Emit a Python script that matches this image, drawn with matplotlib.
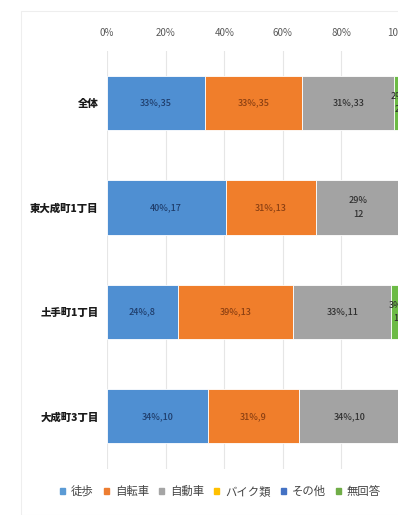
import matplotlib
matplotlib.use("Agg")
import matplotlib.pyplot as plt
import numpy as np
from matplotlib.patches import Rectangle

plt.rcParams['font.family'] = ['Noto Sans CJK JP', 'DejaVu Sans']

categories = ["全体", "東大成町1丁目", "土手町1丁目", "大成町3丁目"]
series = ["徒歩", "自転車", "自動車", "バイク類", "その他", "無回答"]
counts = {
    "徒歩":   [35, 17, 8, 10],
    "自転車": [35, 13, 13, 9],
    "自動車": [33, 12, 11, 10],
    "バイク類": [0, 0, 0, 0],
    "その他": [0, 0, 0, 0],
    "無回答": [2, 0, 1, 0],
}
# labels broken onto two lines in the reference
two_line = {("自動車", 1), ("無回答", 0), ("無回答", 2)}
xticks = [0, 20, 40, 60, 80, 100]
xticklabels = ["0%", "20%", "40%", "60%", "80%", "100%"]

colors = {"徒歩": "#4f8fd2", "自転車": "#f07e2b", "自動車": "#a3a3a3",
          "バイク類": "#ffc000", "その他": "#4472c4", "無回答": "#6cbb45"}
legend_colors = {"徒歩": "#5b9bd5", "自転車": "#ed7d31", "自動車": "#a5a5a5",
                 "バイク類": "#ffc000", "その他": "#4472c4", "無回答": "#70ad47"}
text_colors = {"徒歩": "#1f3d6b", "自転車": "#8a3f12", "自動車": "#303030",
               "バイク類": "#303030", "その他": "#ffffff", "無回答": "#303030"}

W, H = 398, 515
fig = plt.figure(figsize=(W / 100, H / 100), dpi=100)
fig.patch.set_facecolor("white")

# faint chart frame
fig.add_artist(Rectangle((21 / W, 0), 1.0, (H - 11) / H, transform=fig.transFigure,
                         fill=False, edgecolor="#eeeeee", linewidth=0.8))

ax = fig.add_axes([107 / W, (H - 468.5) / H, 293 / W, (468.5 - 51) / H])
totals = np.sum([counts[s] for s in series], axis=0)
y = np.arange(len(categories))
left = np.zeros(len(categories))
for s in series:
    vals = np.array(counts[s], dtype=float)
    pct = vals / totals * 100
    ax.barh(y, pct, left=left, height=0.52, color=colors[s],
            edgecolor="white", linewidth=0.6, zorder=2)
    for i, (c, p) in enumerate(zip(vals, pct)):
        if c > 0:
            sep = "\n" if (s, i) in two_line else ","
            lab = f"{round(p):.0f}%{sep}{int(c)}"
            ax.text(left[i] + p / 2, y[i], lab, ha="center", va="center",
                    fontsize=6.5, fontweight="medium", color=text_colors[s], zorder=3,
                    linespacing=1.6, clip_on=False)
    left += pct

ax.set_xlim(0, 100)
ax.set_ylim(len(categories) - 0.5, -0.5)
ax.set_xticks(xticks)
ax.set_xticklabels(xticklabels, fontsize=7, color="#595959")
ax.xaxis.tick_top()
ax.tick_params(axis="x", length=0, pad=9)
ax.set_yticks(y)
ax.set_yticklabels(categories, fontsize=7.5, fontweight="heavy", color="#1a1a1a")
ax.tick_params(axis="y", length=0, pad=6)
ax.grid(axis="x", color="#e6e6e6", linewidth=0.8, zorder=0)
for sp in ax.spines.values():
    sp.set_visible(False)

handles = [Rectangle((0, 0), 1, 1, color=legend_colors[s]) for s in series]
fig.legend(handles, series, loc="center", bbox_to_anchor=(220.5 / W, (H - 491) / H),
           ncol=6, frameon=False, fontsize=8.2, handlelength=0.45, handleheight=0.45,
           handletextpad=0.5, columnspacing=0.9, labelcolor="#444444")

fig.savefig("out.png", dpi=100)
